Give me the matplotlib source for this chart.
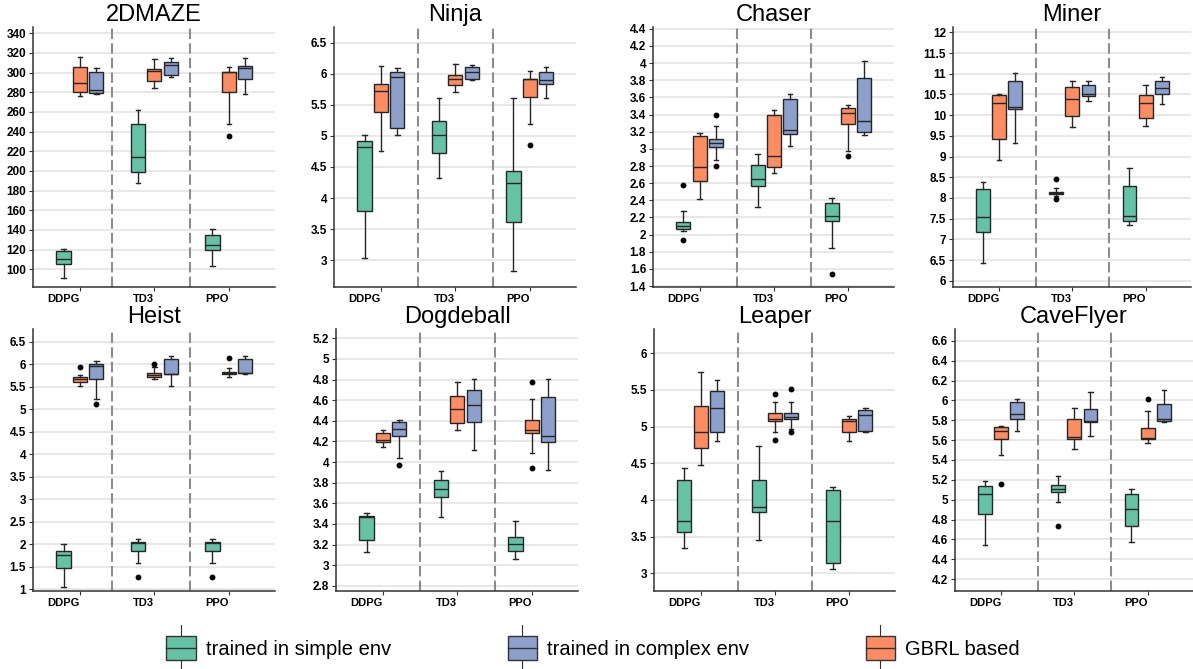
import numpy as np
import matplotlib.pyplot as plt
from matplotlib.patches import Rectangle, Patch
from matplotlib.lines import Line2D
from matplotlib.legend_handler import HandlerBase

plt.rcParams['font.family'] = ['Liberation Sans', 'DejaVu Sans']

games = ["2DMAZE", "Ninja", "Chaser", "Miner", "Heist", "Dogdeball", "Leaper", "CaveFlyer"]
algos = ["DDPG", "TD3", "PPO"]
labels = ["trained in simple env", "trained in complex env", "GBRL based"]
colors = ["#66c2a5", "#8da0cb", "#fc8d62"]

# rows: DDPG, TD3, PPO ; cols: low whisker, q1, median, q3, high whisker
# outliers: (series 0=simple 1=complex 2=gbrl, algo index, value)
maze_simple = [[91, 105, 110, 119, 121], [187.5, 199, 214, 248, 262], [103, 120, 125, 135, 140.7]]
maze_complex = [[278, 279, 282, 301, 305], [296, 298, 308, 311, 314.6], [278, 294, 304.4, 307, 315]]
maze_gbrl = [[276, 280, 289, 306, 316], [284, 291, 302, 304, 314], [248, 280, 300.5, 301, 306]]
maze_out = [(2, 2, 236)]

ninja_simple = [[3.03, 3.79, 4.82, 4.91, 5.01], [4.32, 4.73, 5.01, 5.24, 5.61], [2.83, 3.62, 4.24, 4.43, 5.61]]
ninja_complex = [[5.01, 5.13, 5.94, 6.02, 6.09], [5.89, 5.91, 6.02, 6.11, 6.14], [5.61, 5.83, 5.89, 6.03, 6.11]]
ninja_gbrl = [[4.75, 5.39, 5.72, 5.84, 6.12], [5.71, 5.82, 5.92, 5.98, 6.15], [5.19, 5.62, 5.91, 5.91, 6.04]]
ninja_out = [(2, 2, 4.85)]

chaser_simple = [[2.04, 2.07, 2.10, 2.15, 2.27], [2.32, 2.57, 2.65, 2.81, 2.94], [1.85, 2.16, 2.22, 2.37, 2.43]]
chaser_complex = [[2.87, 3.02, 3.07, 3.12, 3.27], [3.03, 3.17, 3.22, 3.58, 3.64], [3.16, 3.20, 3.33, 3.83, 4.02]]
chaser_gbrl = [[2.42, 2.62, 2.79, 3.15, 3.19], [2.72, 2.79, 2.92, 3.39, 3.45], [2.98, 3.29, 3.42, 3.48, 3.51]]
chaser_out = [(0, 0, 2.58), (0, 0, 1.94), (1, 0, 3.39), (1, 0, 2.80), (0, 2, 1.54), (2, 2, 2.92)]

miner_simple = [[6.44, 7.17, 7.55, 8.22, 8.38], [8.05, 8.09, 8.13, 8.15, 8.25], [7.35, 7.44, 7.56, 8.29, 8.73]]
miner_complex = [[9.33, 10.16, 10.20, 10.83, 11.03], [10.34, 10.46, 10.51, 10.74, 10.83], [10.26, 10.50, 10.65, 10.83, 10.93]]
miner_gbrl = [[8.92, 9.42, 10.30, 10.49, 10.51], [9.72, 9.99, 10.40, 10.69, 10.83], [9.75, 9.92, 10.30, 10.49, 10.73]]
miner_out = [(0, 1, 8.46), (0, 1, 7.97)]

heist_simple = [[1.05, 1.46, 1.76, 1.85, 2.01], [1.59, 1.85, 2.03, 2.04, 2.11], [1.59, 1.85, 2.03, 2.04, 2.11]]
heist_complex = [[5.22, 5.68, 5.96, 6.01, 6.06], [5.51, 5.78, 5.785, 6.11, 6.17], [5.79, 5.80, 5.805, 6.12, 6.17]]
heist_gbrl = [[5.51, 5.60, 5.67, 5.72, 5.76], [5.67, 5.71, 5.76, 5.81, 5.94], [5.71, 5.77, 5.80, 5.83, 5.92]]
heist_out = [(1, 0, 5.12), (2, 0, 5.94), (2, 1, 6.01), (0, 1, 1.27), (0, 2, 1.27), (2, 2, 6.14)]

dodge_simple = [[3.13, 3.24, 3.47, 3.48, 3.51], [3.47, 3.66, 3.74, 3.83, 3.91], [3.06, 3.14, 3.21, 3.27, 3.43]]
dodge_complex = [[4.04, 4.25, 4.32, 4.39, 4.41], [4.12, 4.39, 4.55, 4.70, 4.81], [3.92, 4.19, 4.25, 4.63, 4.81]]
dodge_gbrl = [[4.15, 4.19, 4.21, 4.28, 4.31], [4.31, 4.38, 4.51, 4.64, 4.78], [4.09, 4.28, 4.31, 4.41, 4.61]]
dodge_out = [(1, 0, 3.97), (2, 2, 4.78), (2, 2, 3.94)]

leaper_simple = [[3.34, 3.56, 3.71, 4.27, 4.43], [3.46, 3.84, 3.91, 4.27, 4.73], [3.06, 3.14, 3.71, 4.13, 4.18]]
leaper_complex = [[4.81, 4.92, 5.25, 5.49, 5.63], [4.97, 5.10, 5.13, 5.19, 5.33], [4.93, 4.94, 5.16, 5.23, 5.26]]
leaper_gbrl = [[4.48, 4.71, 4.92, 5.28, 5.74], [4.93, 5.08, 5.11, 5.18, 5.33], [4.81, 4.92, 5.08, 5.11, 5.14]]
leaper_out = [(2, 1, 5.45), (2, 1, 4.82), (1, 1, 5.51), (1, 1, 4.93)]

cave_simple = [[4.54, 4.86, 5.06, 5.14, 5.19], [4.98, 5.08, 5.11, 5.15, 5.24], [4.57, 4.73, 4.91, 5.06, 5.11]]
cave_complex = [[5.69, 5.81, 5.86, 5.98, 6.01], [5.64, 5.78, 5.79, 5.91, 6.09], [5.78, 5.79, 5.81, 5.96, 6.11]]
cave_gbrl = [[5.45, 5.61, 5.69, 5.73, 5.74], [5.51, 5.61, 5.63, 5.81, 5.92], [5.57, 5.61, 5.62, 5.72, 5.89]]
cave_out = [(2, 0, 5.16), (0, 1, 4.73), (2, 2, 6.01)]

panels = [
    (maze_simple, maze_complex, maze_gbrl, maze_out),
    (ninja_simple, ninja_complex, ninja_gbrl, ninja_out),
    (chaser_simple, chaser_complex, chaser_gbrl, chaser_out),
    (miner_simple, miner_complex, miner_gbrl, miner_out),
    (heist_simple, heist_complex, heist_gbrl, heist_out),
    (dodge_simple, dodge_complex, dodge_gbrl, dodge_out),
    (leaper_simple, leaper_complex, leaper_gbrl, leaper_out),
    (cave_simple, cave_complex, cave_gbrl, cave_out),
]

# axis settings: (ymin, ymax, tick start, tick stop, tick step)
yaxes = [(82, 346.4, 100, 340, 20), (2.57, 6.75, 3, 6.5, 0.5), (1.39, 4.42, 1.4, 4.4, 0.2),
         (5.85, 12.13, 6, 12, 0.5), (0.96, 6.78, 1, 6.5, 0.5), (2.75, 5.29, 2.8, 5.2, 0.2),
         (2.76, 6.33, 3, 6, 0.5), (4.08, 6.72, 4.2, 6.6, 0.2)]

W, H = 1193, 669
lefts = [[33, 334, 653, 953], [33, 336, 654, 955]]
widths = [[242, 242, 241, 238], [242, 242, 241, 238]]
offsets = [-0.22, 0.22, 0.0]
edge = '#262626'


class BoxKey(HandlerBase):
    def create_artists(self, legend, orig_handle, xd, yd, w, h, fontsize, trans):
        x0, y0 = -xd, -yd
        box = Rectangle((x0, y0), w, h, facecolor=orig_handle.get_facecolor(),
                        edgecolor='#333333', lw=1.0, transform=trans)
        med = Line2D([x0, x0 + w], [y0 + h / 2] * 2, color='#333333', lw=1.0, transform=trans)
        top = Line2D([x0 + w / 2] * 2, [y0 + h, y0 + h * 1.45], color='#333333', lw=0.8, transform=trans)
        bot = Line2D([x0 + w / 2] * 2, [y0, y0 - h * 0.45], color='#333333', lw=0.8, transform=trans)
        return [top, bot, box, med]


fig = plt.figure(figsize=(W / 100, H / 100), dpi=100)

for i, (game, data, ya) in enumerate(zip(games, panels, yaxes)):
    r, c = divmod(i, 4)
    bottom = 287 if r == 0 else 591
    height = 260 if r == 0 else 262
    ax = fig.add_axes([lefts[r][c] / W, 1 - bottom / H, widths[r][c] / W, height / H])
    ax.set_axisbelow(True)
    ax.yaxis.grid(True, color='#e6e6e6', lw=1.3)

    outs = data[3]
    for k in range(3):
        stats = []
        for j, (lo, q1, med, q3, hi) in enumerate(data[k]):
            stats.append(dict(whislo=lo, q1=q1, med=med, q3=q3, whishi=hi,
                              fliers=[v for s, a, v in outs if s == k and a == j]))
        ax.bxp(stats, positions=np.arange(1, 4) + offsets[k], widths=0.19, capwidths=0.06,
               patch_artist=True, manage_ticks=False,
               boxprops=dict(facecolor=colors[k], edgecolor=edge, linewidth=1.0),
               medianprops=dict(color=edge, linewidth=1.0),
               whiskerprops=dict(color=edge, linewidth=1.0),
               capprops=dict(color=edge, linewidth=1.0),
               flierprops=dict(marker='o', markersize=3.2, markerfacecolor='black',
                               markeredgecolor='black'))

    divs = [1.43, 2.48] if c == 0 else [1.5, 2.5]
    for d in divs:
        ax.axvline(d, color='#8c8c8c', lw=1.5, ls=(0, (5, 2)))

    ax.set_xlim(0.37, 3.62)
    ax.set_ylim(ya[0], ya[1])
    ticks = np.round(np.arange(ya[2], ya[3] + ya[4] / 2, ya[4]), 2)
    ax.set_yticks(ticks, [f"{t:g}" for t in ticks], fontweight='bold', fontsize=8.5)
    ax.set_xticks([1, 2, 3], algos, fontweight='bold', fontsize=8, ha='right')
    ax.tick_params(axis='both', length=3, width=0.8, color='#333333', pad=2)
    for s in ['top', 'right']:
        ax.spines[s].set_visible(False)
    for s in ['left', 'bottom']:
        ax.spines[s].set_color('#333333')
        ax.spines[s].set_linewidth(1.1)
    ax.set_title(game, fontsize=17, pad=4)

fig.legend(handles=[Patch(facecolor=c) for c in colors], labels=labels,
           handler_map={Patch: BoxKey()}, loc='center', bbox_to_anchor=(0.497, 1 - 648 / H),
           ncol=3, frameon=False, fontsize=14.5, handlelength=1.45, handleheight=1.5,
           handletextpad=0.5, columnspacing=5.8)

fig.savefig("out.png", dpi=100)
